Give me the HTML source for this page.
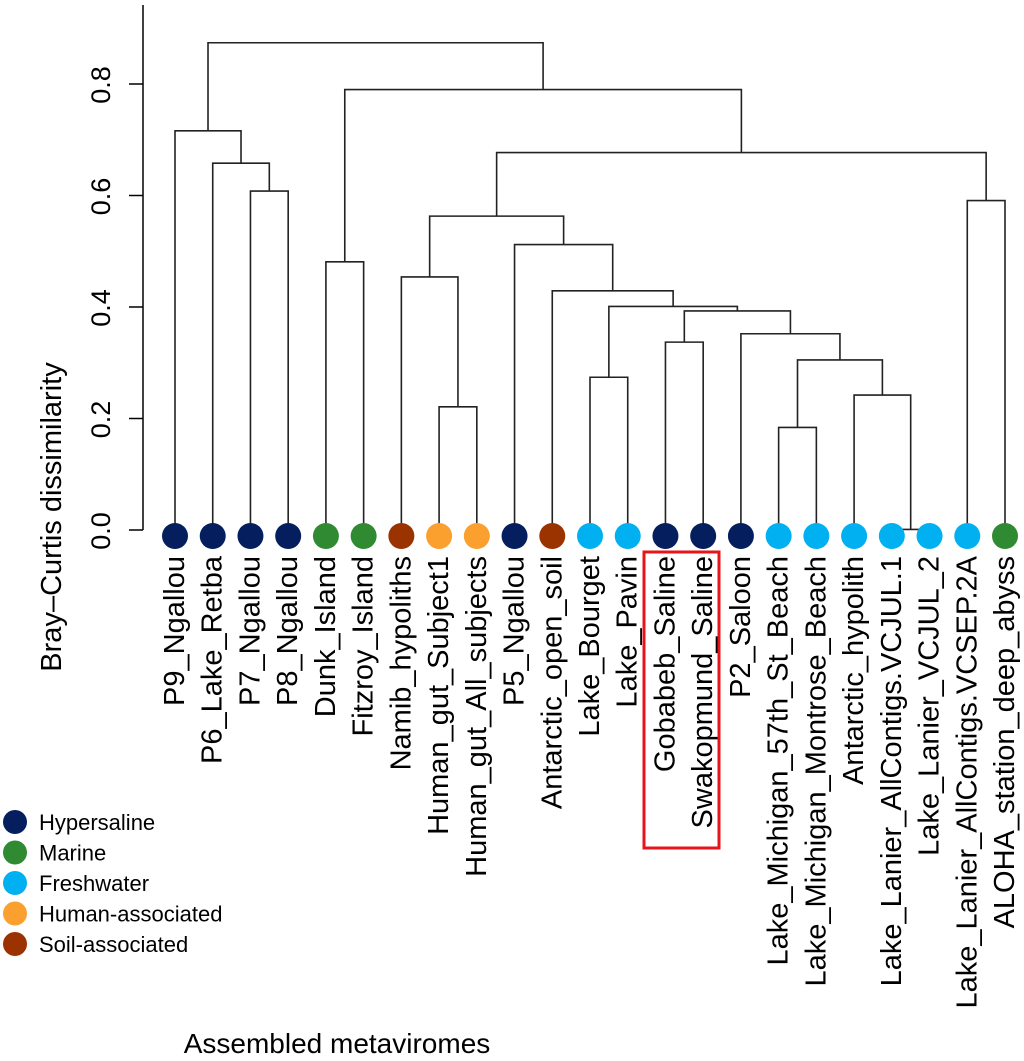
<!DOCTYPE html>
<html><head><meta charset="utf-8"><style>
html,body{margin:0;padding:0;background:#fff;}
svg{display:block;font-family:"Liberation Sans",sans-serif;}
</style></head><body>
<svg id="chart" width="1024" height="1061" viewBox="0 0 1024 1061" xmlns="http://www.w3.org/2000/svg">
<g id="axis"></g>
<g id="tree"></g>
<g id="dots"></g>
<g id="labels"></g>
<rect x="644" y="552" width="75" height="296" fill="none" stroke="#e8141a" stroke-width="3"/>
<text transform="translate(61,517) rotate(-90)" text-anchor="middle" font-size="29" fill="#000">Bray–Curtis dissimilarity</text>
<text x="337" y="1053" text-anchor="middle" font-size="28" fill="#000">Assembled metaviromes</text>
<g id="legend"></g>
</svg>
<script>
const leafNames = ["P9_Ngallou","P6_Lake_Retba","P7_Ngallou","P8_Ngallou","Dunk_Island","Fitzroy_Island","Namib_hypoliths","Human_gut_Subject1","Human_gut_All_subjects","P5_Ngallou","Antarctic_open_soil","Lake_Bourget","Lake_Pavin","Gobabeb_Saline","Swakopmund_Saline","P2_Saloon","Lake_Michigan_57th_St_Beach","Lake_Michigan_Montrose_Beach","Antarctic_hypolith","Lake_Lanier_AllContigs.VCJUL.1","Lake_Lanier_VCJUL_2","Lake_Lanier_AllContigs.VCSEP.2A","ALOHA_station_deep_abyss"];
const leafTypes = [0,0,0,0,1,1,4,3,3,0,4,2,2,0,0,0,2,2,2,2,2,2,1];
const legendLabels = ["Hypersaline","Marine","Freshwater","Human-associated","Soil-associated"];
const typeColors = ["#041e5e","#2f8a32","#00b0f0","#fba02f","#9a3300"];
const mergeLeft  = [-3,-2,-1,-5,-8,-7,-12,-14,-17,-20,-19,9,-16,8,7,-11,-10,6,-22,18,4,3];
const mergeRight = [-4,1,2,-6,-9,5,-13,-15,-18,-21,10,11,12,13,14,15,16,17,-23,19,20,21];
const mergeHeights = [0.608,0.658,0.716,0.481,0.221,0.454,0.274,0.337,0.184,0.001,0.242,0.305,0.352,0.393,0.401,0.429,0.512,0.563,0.591,0.677,0.790,0.874];
const yTicks = [0,0.2,0.4,0.6,0.8];
const yTickLabels = ["0.0","0.2","0.4","0.6","0.8"];

const NS="http://www.w3.org/2000/svg";
const xLeaf = i => 175 + i*(1005-175)/(leafNames.length-1);
const yScale = v => 530 - v*557.5;
function mk(tag, attrs, parent){const e=document.createElementNS(NS,tag);for(const k in attrs)e.setAttribute(k,attrs[k]);parent.appendChild(e);return e;}

const axis=document.getElementById('axis');
let ax=mk('line',{x1:143,y1:5,x2:143,y2:530,stroke:'#000','stroke-width':1.5},axis);


yTicks.forEach((v,i)=>{
  const t=mk('line',{x1:129,y1:yScale(v),x2:143,y2:yScale(v),stroke:'#000','stroke-width':1.5},axis);
  
  
  const l=mk('text',{transform:`translate(110,${yScale(v)+1}) rotate(-90)`,'text-anchor':'middle','font-size':27,fill:'#000'},axis);
  
  
  l.textContent=yTickLabels[i];
});

const tree=document.getElementById('tree');
const nodeX=[], nodeH=[];
function pos(ref){ if(ref<0) return [xLeaf(-ref-1),0]; return [nodeX[ref-1],nodeH[ref-1]]; }
mergeHeights.forEach((h,m)=>{
  const [xl,hl]=pos(mergeLeft[m]); const [xr,hr]=pos(mergeRight[m]);
  nodeX[m]=(xl+xr)/2; nodeH[m]=h;
  const p=mk('path',{d:`M${xl},${yScale(hl)}V${yScale(h)}H${xr}V${yScale(hr)}`,fill:'none',stroke:'#222','stroke-width':1.6},tree);
  
  
});

const dots=document.getElementById('dots'), labels=document.getElementById('labels');
leafNames.forEach((n,i)=>{
  const c=mk('circle',{cx:xLeaf(i),cy:536,r:13,fill:typeColors[leafTypes[i]]},dots);
  
  
  const t=mk('text',{transform:`translate(${xLeaf(i)+9},556) rotate(-90)`,'text-anchor':'end','font-size':29,fill:'#000'},labels);
  
  
  t.textContent=n;
});

const legend=document.getElementById('legend');
legendLabels.forEach((n,i)=>{
  const y=822+i*30.5;
  const c=mk('circle',{cx:15,cy:y,r:12,fill:typeColors[i]},legend);
  
  
  const t=mk('text',{x:39,y:y+8,'font-size':22,fill:'#000'},legend);
  
  
  t.textContent=n;
});
</script>
</body></html>
